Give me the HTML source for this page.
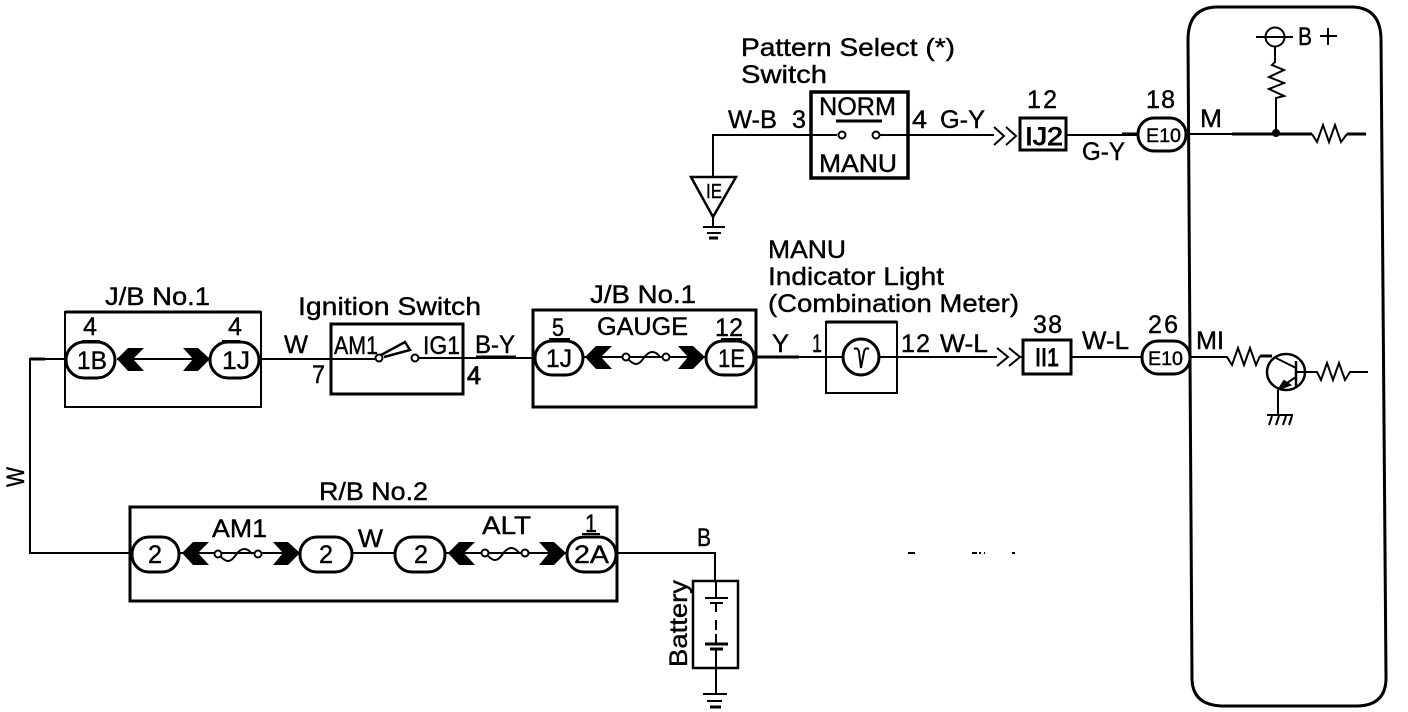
<!DOCTYPE html>
<html>
<head>
<meta charset="utf-8">
<style>
html,body{margin:0;padding:0;background:#fff;width:1408px;height:712px;overflow:hidden}
svg{display:block}
text{font-family:"Liberation Sans",sans-serif;font-size:25px;fill:#000;stroke:#000;stroke-width:.4}
.s{font-size:19px}
</style>
</head>
<body>
<svg width="1408" height="712" viewBox="0 0 1408 712" xmlns="http://www.w3.org/2000/svg">
<defs>
<polygon id="cl" points="0,0 11,-11 27,-11 16,0 27,12 11,12"/>
<polygon id="cr" points="-27,-11 -12,-11 0,0 -12,12 -27,12 -17,0"/>
<g id="fuse" fill="#fff" stroke="#000" stroke-width="2"><path d="M-20,0 C-12,9 -8,9 -3,2 C3,-7 9,-7 14,0" fill="none"/><circle cx="-20" cy="0" r="3.5"/><circle cx="20" cy="0" r="3.5"/></g>
</defs>

<g fill="none" stroke="#000" stroke-width="2">
<!-- left wire -->
<path d="M66,359 H30 V553 H130"/>
<path d="M30,359 H45" stroke-width="3"/>
<!-- J/B left -->
<rect x="65" y="312" width="196" height="95"/>
<path d="M65,312 H261" stroke-width="3"/>
<path d="M117,359 H210"/>
<rect x="66" y="342" width="49" height="36" rx="18" ry="18" fill="#fff" stroke-width="3"/>
<rect x="210" y="342" width="49" height="36" rx="18" ry="18" fill="#fff" stroke-width="3"/>
<path d="M82,341 H100 M222,341 H240"/>
<!-- W wire -->
<path d="M259,359 H379 M419,358 H534"/>
<path d="M476,357 H516" stroke-width="3"/>
<!-- Ignition -->
<rect x="331" y="324" width="132" height="70" stroke-width="3"/>
<circle cx="379" cy="358" r="3.5" fill="#fff"/>
<circle cx="415" cy="358" r="3.5" fill="#fff"/>
<path d="M381,355 L405,342 L410,350 L384,357" stroke-width="2.5"/>
<!-- J/B center -->
<rect x="533" y="310" width="223" height="97" stroke-width="3"/>
<path d="M583,357 H706"/>
<use href="#fuse" x="646" y="357"/>
<rect x="535" y="341" width="48" height="34" rx="17" fill="#fff" stroke-width="3"/>
<rect x="706" y="341" width="48" height="34" rx="17" fill="#fff" stroke-width="3"/>
<path d="M549,339 H570 M721,339 H742"/>
<!-- Y wire, meter -->
<path d="M754,357 H842 M880,357 H997 M1021,357 H1023"/>
<path d="M756,357 H799" stroke-width="3"/>
<rect x="826" y="322" width="71" height="71"/>
<path d="M826,322 H897" stroke-width="3"/>
<circle cx="861" cy="357" r="18" stroke-width="3"/>
<path d="M854,349 Q858,347 859,352 L861,368 L864,352 Q865,347 869,349"/>
<path d="M997,348 L1008,357 L997,366 M1009,348 L1020,357 L1009,366"/>
<rect x="1023" y="340" width="48" height="34" stroke-width="3"/>
<path d="M1071,357 H1142"/>
<rect x="1142" y="341" width="48" height="33" rx="16" stroke-width="3"/>
<!-- top row -->
<path d="M713,178 V135 H837 M880,135 H994"/>
<rect x="811" y="92" width="97" height="86" stroke-width="3.5"/>
<path d="M836,121 H882" stroke-width="3"/>
<circle cx="842" cy="135" r="3.5" fill="#fff"/>
<circle cx="876" cy="135" r="3.5" fill="#fff"/>
<path d="M994,127 L1004,136 L994,145 M1006,127 L1016,136 L1006,145"/>
<rect x="1020" y="118" width="46" height="32" stroke-width="3"/>
<path d="M1066,135 H1138"/>
<path d="M1122,134 H1138" stroke-width="3"/>
<rect x="1138" y="118" width="48" height="33" rx="16" stroke-width="3"/>
<polygon points="691,177 736,177 713,217" stroke-width="2.5"/>
<path d="M713,217 V227 M703,227 H725 M707,233 H721"/>
<path d="M709,238 H718" stroke-width="3"/>
<!-- Outer ECU -->
<path d="M1188,40 Q1188,8 1216,7 H1353 Q1380,8 1381,38 L1386,678 Q1386,705 1358,706 H1222 Q1192,705 1192,678 Z" stroke-width="3"/>
<!-- B+ -->
<circle cx="1275" cy="37" r="9.5"/>
<path d="M1256,37 H1293"/>
<path d="M1320,36 H1337 M1328,28 V45" stroke-width="2"/>
<path d="M1275,47 V62 L1272,65 L1284,70 L1269,77 L1284,83 L1269,89 L1284,96 L1276,98 V133" stroke-width="2"/>
<circle cx="1276" cy="133" r="3" fill="#000"/>
<path d="M1188,134 H1232"/>
<path d="M1232,134 H1312" stroke-width="3"/>
<path d="M1312,134 L1317,142 L1323,125 L1329,142 L1335,125 L1341,142 L1347,134"/>
<path d="M1347,134 H1366" stroke-width="3"/>
<!-- MI -->
<path d="M1190,357 H1227 L1232,365 L1238,348 L1244,365 L1250,348 L1256,365 L1260,356"/>
<path d="M1260,356 H1272" stroke-width="3"/>
<ellipse cx="1286" cy="372" rx="19" ry="18" stroke-width="2.5"/>
<path d="M1296,361 V388" stroke-width="2.5"/>
<path d="M1276,358 L1296,368 M1278,389 L1296,377"/>
<polygon points="1279,389 1284,381 1290,385" fill="#000"/>
<path d="M1296,372 H1317 L1321,380 L1327,363 L1333,380 L1339,363 L1345,380 L1350,372 H1368"/>
<path d="M1278,390 V415 M1267,415 H1293 M1272,416 L1269,425 M1279,416 L1276,425 M1286,416 L1283,425 M1292,416 L1289,425"/>
<!-- R/B -->
<rect x="130" y="507" width="487" height="94" stroke-width="3"/>
<path d="M179,553 H300 M352,553 H395 M445,553 H567 M616,553 H715 V581"/>
<path d="M358,553 H378" stroke-width="2"/>
<use href="#fuse" x="238" y="554"/>
<use href="#fuse" x="505" y="553"/>
<rect x="132" y="537" width="47" height="35" rx="17" fill="#fff" stroke-width="3"/>
<rect x="300" y="537" width="52" height="35" rx="17" fill="#fff" stroke-width="3"/>
<rect x="395" y="537" width="50" height="35" rx="17" fill="#fff" stroke-width="3"/>
<rect x="567" y="537" width="49" height="35" rx="17" fill="#fff" stroke-width="3"/>
<path d="M582,534 H600"/>
<!-- battery -->
<rect x="693" y="581" width="45" height="87" stroke-width="2.5"/>
<path d="M716,581 V598 M705,598 H728 M710,603 H723 M716,603 V612 M716,620 V630 M716,634 V644 M716,649 V693"/>
<path d="M705,644 H728 M710,649 H723" stroke-width="3"/>
<path d="M703,694 H727 M707,701 H722"/>
<path d="M710,707 H721" stroke-width="3"/>
</g>

<g fill="#000">
<use href="#cl" x="117" y="359"/><use href="#cr" x="210" y="359"/>
<use href="#cl" x="585" y="357"/><use href="#cr" x="705" y="357"/>
<use href="#cl" x="182" y="553"/><use href="#cr" x="300" y="553"/>
<use href="#cl" x="448" y="553"/><use href="#cr" x="566" y="553"/>
<rect x="908" y="552" width="7" height="2"/>
<rect x="972" y="552" width="5" height="2"/><rect x="979" y="552" width="2" height="2"/><rect x="984" y="552" width="1" height="2"/>
<rect x="1012" y="552" width="3" height="2"/>
</g>

<g>
<text x="741" y="56" textLength="214" lengthAdjust="spacingAndGlyphs">Pattern Select (*)</text>
<text x="741" y="83" textLength="86" lengthAdjust="spacingAndGlyphs">Switch</text>
<text x="819" y="115" textLength="77" lengthAdjust="spacingAndGlyphs">NORM</text>
<text x="819" y="172" textLength="78" lengthAdjust="spacingAndGlyphs">MANU</text>
<text x="728" y="128" textLength="49" lengthAdjust="spacingAndGlyphs">W-B</text>
<text x="792" y="128" textLength="14" lengthAdjust="spacingAndGlyphs">3</text>
<text x="912" y="128" textLength="15" lengthAdjust="spacingAndGlyphs">4</text>
<text x="940" y="128" textLength="45" lengthAdjust="spacingAndGlyphs">G-Y</text>
<text x="1027" y="108" textLength="30">12</text>
<text x="1025" y="145" textLength="38" lengthAdjust="spacingAndGlyphs" style="stroke-width:.9">IJ2</text>
<text x="1082" y="160" textLength="43" lengthAdjust="spacingAndGlyphs">G-Y</text>
<text x="1146" y="108" textLength="29">18</text>
<text class="s" x="1146" y="142" textLength="35" lengthAdjust="spacingAndGlyphs">E10</text>
<text x="1200" y="127" textLength="22" lengthAdjust="spacingAndGlyphs">M</text>
<text x="1298" y="45" textLength="14" lengthAdjust="spacingAndGlyphs">B</text>
<text x="768" y="258" textLength="78" lengthAdjust="spacingAndGlyphs">MANU</text>
<text x="768" y="285" textLength="176" lengthAdjust="spacingAndGlyphs">Indicator Light</text>
<text x="768" y="312" textLength="251" lengthAdjust="spacingAndGlyphs">(Combination Meter)</text>
<text x="105" y="305" textLength="105" lengthAdjust="spacingAndGlyphs">J/B No.1</text>
<text x="298" y="315" textLength="183" lengthAdjust="spacingAndGlyphs">Ignition Switch</text>
<text x="590" y="303" textLength="106" lengthAdjust="spacingAndGlyphs">J/B No.1</text>
<text x="83" y="335" textLength="14" lengthAdjust="spacingAndGlyphs">4</text>
<text x="228" y="335" textLength="14" lengthAdjust="spacingAndGlyphs">4</text>
<text x="77" y="369" textLength="30" lengthAdjust="spacingAndGlyphs">1B</text>
<text x="222" y="369" textLength="28" lengthAdjust="spacingAndGlyphs">1J</text>
<text x="284" y="353" textLength="24" lengthAdjust="spacingAndGlyphs">W</text>
<text x="312" y="383" textLength="13" lengthAdjust="spacingAndGlyphs">7</text>
<text x="334" y="354" textLength="44" lengthAdjust="spacingAndGlyphs">AM1</text>
<text x="423" y="354" textLength="37" lengthAdjust="spacingAndGlyphs">IG1</text>
<text x="475" y="353" textLength="40" lengthAdjust="spacingAndGlyphs">B-Y</text>
<text x="467" y="384" textLength="14" lengthAdjust="spacingAndGlyphs" style="stroke-width:.8">4</text>
<text x="552" y="336" textLength="12" lengthAdjust="spacingAndGlyphs">5</text>
<text x="597" y="335" textLength="91" lengthAdjust="spacingAndGlyphs">GAUGE</text>
<text x="715" y="336" textLength="28">12</text>
<text x="546" y="367" textLength="26" lengthAdjust="spacingAndGlyphs">1J</text>
<text x="718" y="367" textLength="27" lengthAdjust="spacingAndGlyphs">1E</text>
<text x="772" y="352" textLength="17" lengthAdjust="spacingAndGlyphs">Y</text>
<text x="812" y="352" textLength="10" lengthAdjust="spacingAndGlyphs">1</text>
<text x="901" y="352" textLength="29">12</text>
<text x="940" y="352" textLength="48" lengthAdjust="spacingAndGlyphs">W-L</text>
<text x="1033" y="333" textLength="29">38</text>
<text x="1035" y="366" textLength="24" lengthAdjust="spacingAndGlyphs" style="stroke-width:.9">II1</text>
<text x="1082" y="349" textLength="47" lengthAdjust="spacingAndGlyphs">W-L</text>
<text x="1148" y="333" textLength="30">26</text>
<text class="s" x="1148" y="365" textLength="35" lengthAdjust="spacingAndGlyphs">E10</text>
<text x="1196" y="349" textLength="28" lengthAdjust="spacingAndGlyphs">MI</text>
<text x="319" y="500" textLength="109" lengthAdjust="spacingAndGlyphs">R/B No.2</text>
<text x="212" y="537" textLength="55" lengthAdjust="spacingAndGlyphs">AM1</text>
<text x="358" y="547" textLength="25" lengthAdjust="spacingAndGlyphs">W</text>
<text x="482" y="534" textLength="49" lengthAdjust="spacingAndGlyphs">ALT</text>
<text x="585" y="532" textLength="12" lengthAdjust="spacingAndGlyphs">1</text>
<text x="148" y="563" textLength="14" lengthAdjust="spacingAndGlyphs">2</text>
<text x="319" y="563" textLength="14" lengthAdjust="spacingAndGlyphs">2</text>
<text x="414" y="563" textLength="14" lengthAdjust="spacingAndGlyphs">2</text>
<text x="574" y="563" textLength="35" lengthAdjust="spacingAndGlyphs">2A</text>
<text x="697" y="546" textLength="14" lengthAdjust="spacingAndGlyphs">B</text>
<text transform="translate(687,667) rotate(-90)" textLength="87" lengthAdjust="spacingAndGlyphs">Battery</text>
<text transform="translate(24,487) rotate(-90)" textLength="20" lengthAdjust="spacingAndGlyphs">W</text>
<text x="706" y="198" textLength="16" lengthAdjust="spacingAndGlyphs" style="font-size:20px">IE</text>
</g>
</svg>
</body>
</html>
